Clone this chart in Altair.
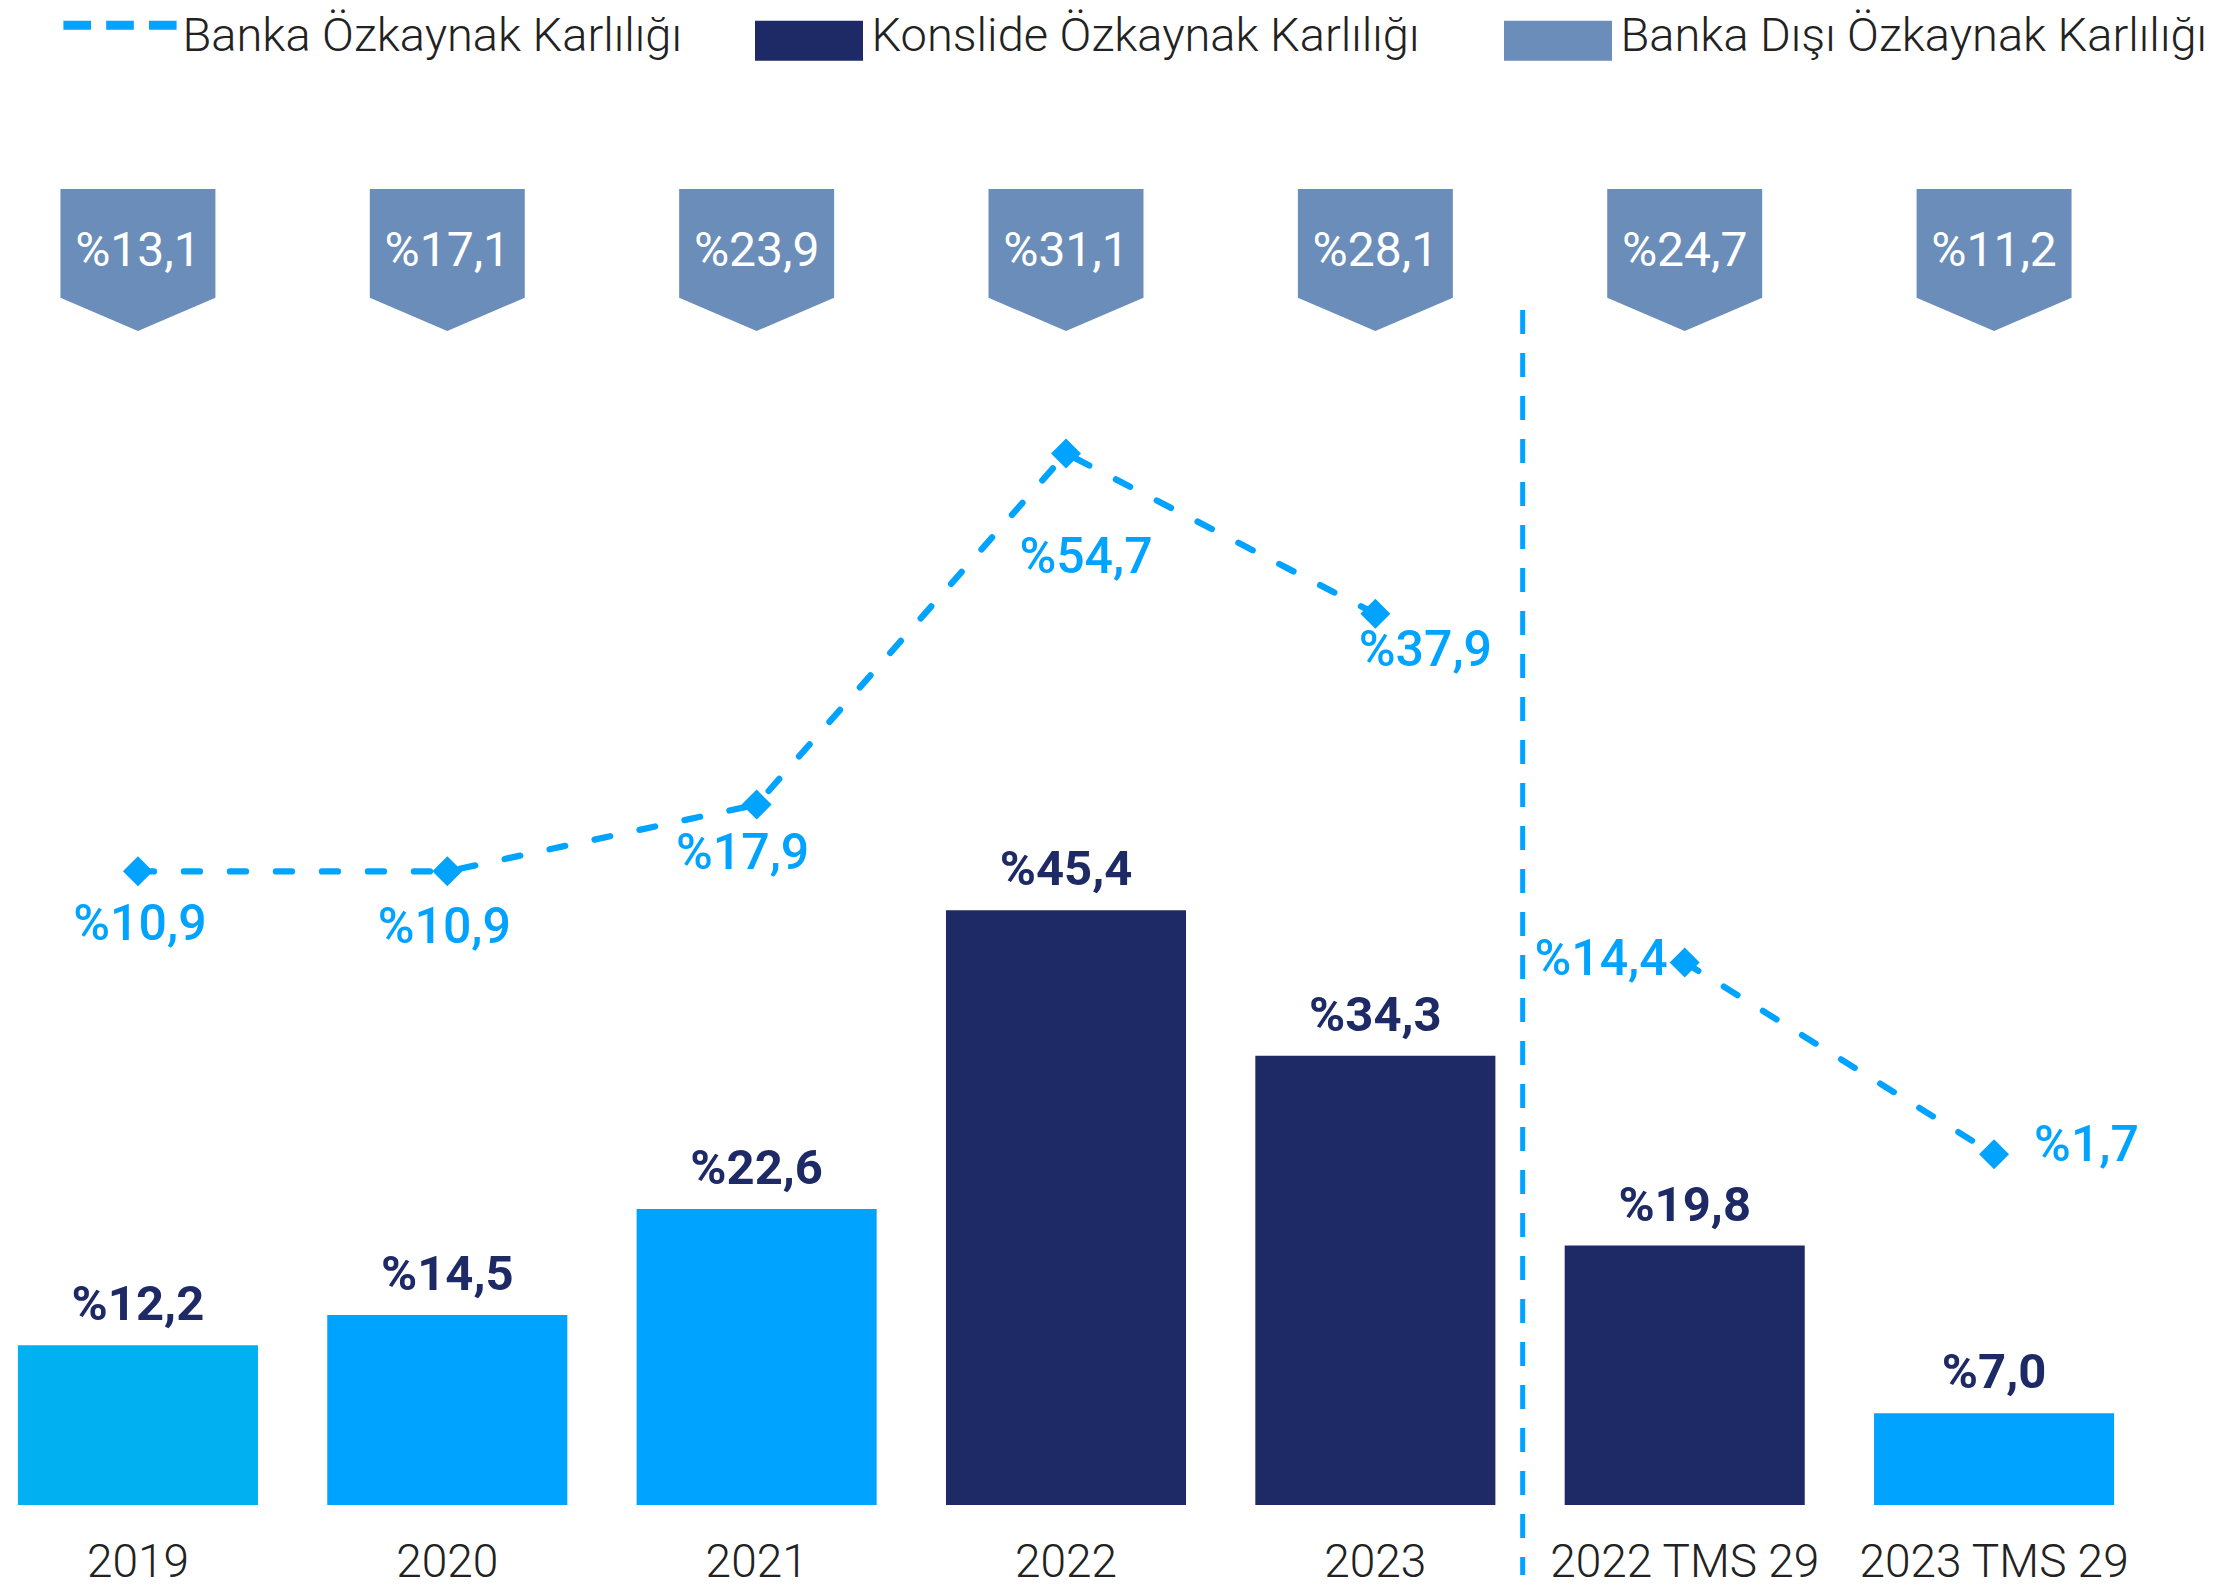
import altair as alt
import pandas as pd

# ---- data ----
categories = ["2019", "2020", "2021", "2022", "2023", "2022 TMS 29", "2023 TMS 29"]
konsolide_roe = [12.2, 14.5, 22.6, 45.4, 34.3, 19.8, 7.0]
bar_colors = ["#00B0F0", "#00A3FF", "#00A3FF", "#1E2A65", "#1E2A65", "#1E2A65", "#00A3FF"]
banka_roe = [10.9, 10.9, 17.9, 54.7, 37.9, 14.4, 1.7]
banka_disi_roe = [13.1, 17.1, 23.9, 31.1, 28.1, 24.7, 11.2]
segment = ["main", "main", "main", "main", "main", "tms", "tms"]
legend_labels = ["Banka Özkaynak Karlılığı", "Konslide  Özkaynak Karlılığı", "Banka Dışı  Özkaynak Karlılığı"]
legend_colors = ["#00A3FF", "#1E2A65", "#6B8DB9"]


def pct(v):
    return "%" + f"{v:.1f}".replace(".", ",")


df = pd.DataFrame({
    "cat": categories,
    "kons": konsolide_roe,
    "kons_lbl": [pct(v) for v in konsolide_roe],
    "bar_color": bar_colors,
    "banka": banka_roe,
    "banka_lbl": [pct(v) for v in banka_roe],
    "disi": banka_disi_roe,
    "disi_lbl": [pct(v) for v in banka_disi_roe],
    "seg": segment,
})

W, H = 2116, 1497
FONT = "Roboto"
BLUE = "#00A3FF"
NAVY = "#1E2A65"
STEEL = "#6B8DB9"

x_scale = alt.Scale(type="band", domain=categories, paddingInner=0.224, paddingOuter=0.032)
x_axis = alt.Axis(title=None, labelAngle=0, domain=False, ticks=False, tickSize=0, grid=False,
                  labelFont=FONT, labelFontSize=46, labelFontWeight=300, labelColor="#222222",
                  labelPadding=57, labelBaseline="middle", labelLimit=1000)


def xenc(**kw):
    return alt.X("cat:N", sort=categories, scale=x_scale, axis=x_axis, **kw)


bar_scale = alt.Scale(domain=[0, 114.27], nice=False, zero=True)
main_scale = alt.Scale(domain=[-55.51, 101.39], nice=False, zero=False)
tms_scale = alt.Scale(domain=[-21.51, 77.56], nice=False, zero=False)

base = alt.Chart(df)

bars = base.mark_bar().encode(
    x=xenc(),
    y=alt.Y("kons:Q", scale=bar_scale, axis=None),
    fill=alt.Fill("bar_color:N", scale=None),
)

bar_text = base.mark_text(dy=-40, baseline="middle", font=FONT, fontSize=49,
                          fontWeight="bold", color=NAVY).encode(
    x=xenc(),
    y=alt.Y("kons:Q", scale=bar_scale, axis=None),
    text="kons_lbl:N",
)


def line_layer(seg, scale):
    return base.transform_filter(alt.datum.seg == seg).mark_line(
        strokeDash=[16, 30], strokeWidth=6.3, strokeCap="round", color=BLUE,
        point=alt.OverlayMarkDef(shape="diamond", size=900, filled=True, color=BLUE, strokeWidth=0),
    ).encode(
        x=xenc(),
        y=alt.Y("banka:Q", scale=scale, axis=None),
    )


line_main = line_layer("main", main_scale)
line_tms = line_layer("tms", tms_scale)

# label placement (style offsets only)
label_specs = [
    ("2019", main_scale, 2, 54, "center"),
    ("2020", main_scale, -3, 57, "center"),
    ("2021", main_scale, -14, 49, "center"),
    ("2022", main_scale, 20, 105, "center"),
    ("2023", main_scale, 50, 37, "center"),
    ("2022 TMS 29", tms_scale, -17, -2, "right"),
    ("2023 TMS 29", tms_scale, 40, -8, "left"),
]
line_labels = []
for cat, sc, dx, dy, al in label_specs:
    line_labels.append(
        base.transform_filter(alt.datum.cat == cat).mark_text(
            dx=dx, dy=dy, align=al, baseline="middle", font=FONT, fontSize=50,
            fontWeight=500, color=BLUE
        ).encode(
            x=xenc(),
            y=alt.Y("banka:Q", scale=sc, axis=None),
            text="banka_lbl:N",
        )
    )

BADGE = "M-0.945,-0.744H0.945V0.582L0,0.988L-0.945,0.582Z"
badges = base.mark_point(shape=BADGE, size=26896, filled=True, color=STEEL,
                         opacity=1, strokeWidth=0).encode(
    x=xenc(),
    y=alt.value(242),
)
badge_text = base.mark_text(font=FONT, fontSize=48, color="white", baseline="middle", dy=2).encode(
    x=xenc(),
    y=alt.value(242),
    text="disi_lbl:N",
)

sep = alt.Chart(pd.DataFrame({"cat": ["2022 TMS 29"]})).mark_rule(
    strokeDash=[24, 19], strokeWidth=5, color=BLUE, xOffset=-42
).encode(
    x=xenc(bandPosition=0),
    y=alt.value(302),
    y2=alt.value(1567),
)

DASH = "M-2.83,-0.82H-1.45V-0.38H-2.83Z M-0.69,-0.82H0.69V-0.38H-0.69Z M1.45,-0.82H2.83V-0.38H1.45Z"
RECT = "M-2.7,-0.8H2.7V1.2H-2.7Z"
legend_shapes = [DASH, RECT, RECT]

leg = alt.Legend(title=None, orient="none", legendX=88.5, legendY=5, direction="horizontal",
                 columns=3, symbolSize=1600, labelOffset=39, columnPadding=72,
                 labelFont=FONT, labelFontSize=47, labelFontWeight=300, labelColor="#222222",
                 labelLimit=2000, symbolStrokeWidth=0, symbolOpacity=1)

legend_layer = alt.Chart(pd.DataFrame({"series": legend_labels})).mark_point(
    filled=True, opacity=0
).encode(
    x=alt.value(0),
    y=alt.value(0),
    color=alt.Color("series:N", sort=legend_labels,
                    scale=alt.Scale(domain=legend_labels, range=legend_colors), legend=leg),
    shape=alt.Shape("series:N", sort=legend_labels,
                    scale=alt.Scale(domain=legend_labels, range=legend_shapes), legend=leg),
)

chart = alt.layer(
    bars, bar_text, line_main, line_tms, *line_labels, badges, badge_text, sep, legend_layer
).resolve_scale(
    y="independent"
).properties(
    width=W,
    height=H,
    autosize=alt.AutoSizeParams(type="none"),
    padding={"left": 0, "top": 0, "right": 97, "bottom": 82},
).configure_view(strokeWidth=0)

chart.save("out.html", embed_options={"renderer": "svg", "actions": False})
